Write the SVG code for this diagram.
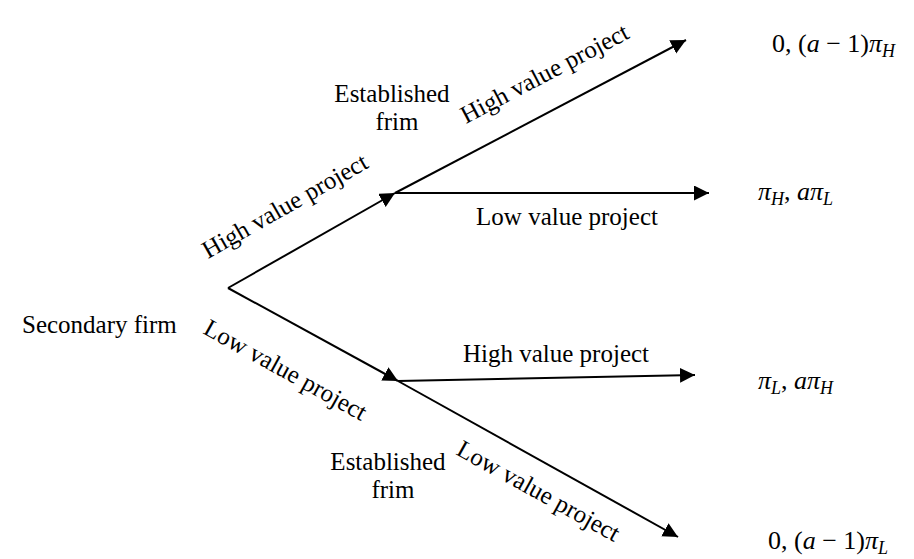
<svg xmlns="http://www.w3.org/2000/svg" width="914" height="559" viewBox="0 0 914 559">
  <style>
    .lbl { font-family: "Liberation Serif", "Times New Roman", serif; font-size: 25px; fill: #000; }
    .m { font-family: "Liberation Serif", "Times New Roman", serif; font-size: 26px; fill: #000; }
    .i { font-style: italic; }
    .sub { font-style: italic; font-size: 18px; }
    .edge { stroke: #000; stroke-width: 2; fill: none; marker-end: url(#head); }
  </style>
  <defs>
    <marker id="head" markerUnits="userSpaceOnUse" markerWidth="16" markerHeight="16" refX="15" refY="7.5" orient="auto">
      <path d="M0,0 L15,7.5 L0,15 Z" fill="#000"/>
    </marker>
  </defs>
  <rect width="914" height="559" fill="#fff"/>

  <!-- game tree edges -->
  <g id="connectors">
    <line class="edge" x1="228" y1="288" x2="395" y2="193"/>
    <line class="edge" x1="395" y1="193" x2="686" y2="40"/>
    <line class="edge" x1="395" y1="193" x2="709" y2="193"/>
    <line class="edge" x1="228" y1="288" x2="398" y2="381"/>
    <line class="edge" x1="398" y1="381" x2="695" y2="375"/>
    <line class="edge" x1="398" y1="381" x2="678" y2="537"/>
  </g>

  <!-- decision nodes -->
  <g id="secondary-firm">
    <text class="lbl" x="22" y="333">Secondary firm</text>
  </g>
  <g id="established-upper">
    <text class="lbl" x="392" y="102" text-anchor="middle">Established</text>
    <text class="lbl" x="397" y="130" text-anchor="middle">frim</text>
  </g>
  <g id="established-lower">
    <text class="lbl" x="388" y="470" text-anchor="middle">Established</text>
    <text class="lbl" x="393" y="498" text-anchor="middle">frim</text>
  </g>

  <!-- action labels -->
  <g id="actions">
    <text class="lbl" transform="translate(208,259) rotate(-29.6)">High value project</text>
    <text class="lbl" transform="translate(466,124) rotate(-27.7)">High value project</text>
    <text class="lbl" x="567" y="225" text-anchor="middle">Low value project</text>
    <text class="lbl" transform="translate(202,333) rotate(29)">Low value project</text>
    <text class="lbl" x="556" y="362" text-anchor="middle">High value project</text>
    <text class="lbl" transform="translate(455,454) rotate(29)">Low value project</text>
  </g>

  <!-- payoffs -->
  <g id="payoff-hh">
    <text class="m" x="772" y="52">0, (<tspan class="i">a</tspan> − 1)<tspan class="i">π</tspan><tspan class="sub" dy="5">H</tspan></text>
  </g>
  <g id="payoff-hl">
    <text class="m" x="758" y="200"><tspan class="i">π</tspan><tspan class="sub" dy="5">H</tspan><tspan dy="-5">, </tspan><tspan class="i">aπ</tspan><tspan class="sub" dy="5">L</tspan></text>
  </g>
  <g id="payoff-lh">
    <text class="m" x="758" y="389"><tspan class="i">π</tspan><tspan class="sub" dy="5">L</tspan><tspan dy="-5">, </tspan><tspan class="i">aπ</tspan><tspan class="sub" dy="5">H</tspan></text>
  </g>
  <g id="payoff-ll">
    <text class="m" x="768" y="549">0, (<tspan class="i">a</tspan> − 1)<tspan class="i">π</tspan><tspan class="sub" dy="5">L</tspan></text>
  </g>
</svg>
